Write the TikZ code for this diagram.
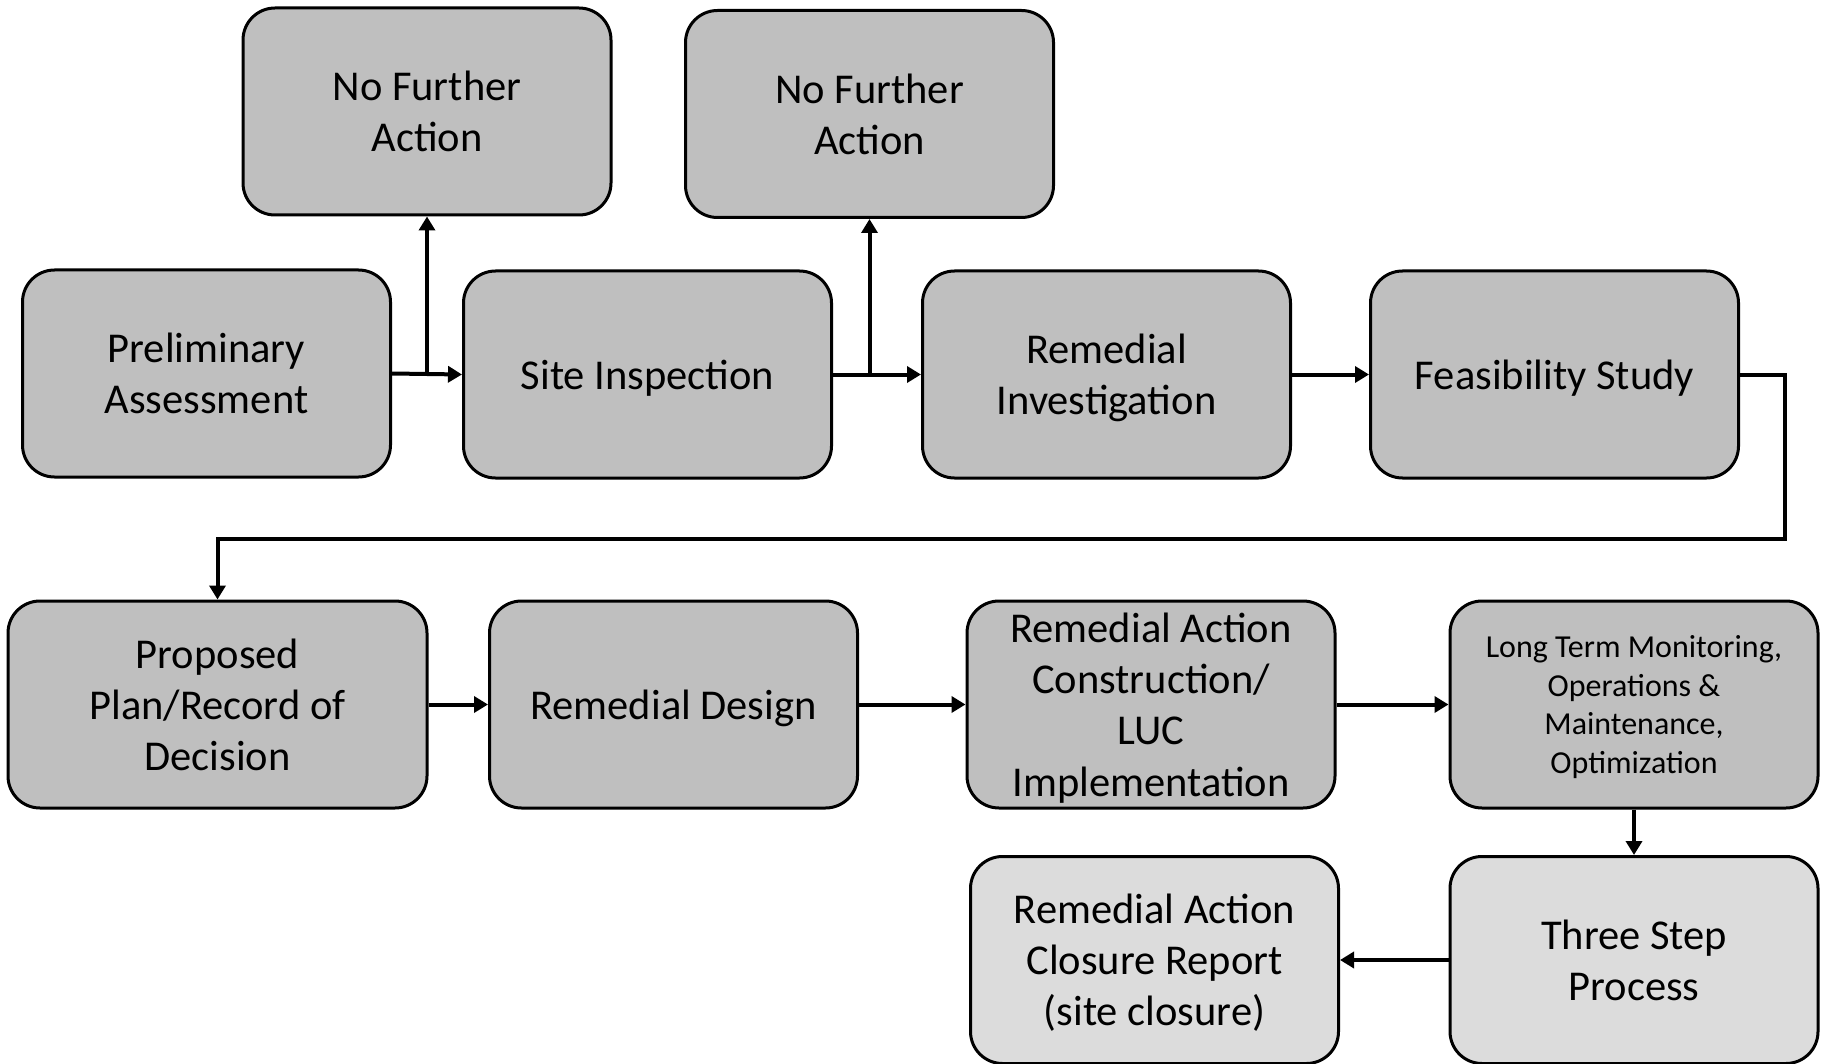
\documentclass[tikz,border=0pt]{standalone}
\usepackage{fontspec}
\setmainfont{Carlito}
\usetikzlibrary{arrows.meta}
\usetikzlibrary{calc}

\definecolor{stagegray}{HTML}{BFBFBF}
\definecolor{closegray}{HTML}{DCDCDC}

\begin{document}
\begin{tikzpicture}[x=0.5pt,y=-0.5pt,
    stage/.style={draw=black,line width=1.5pt,rounded corners=16pt,fill=stagegray,
      minimum width=184pt,minimum height=103.5pt,align=center,inner sep=2pt,
      text depth=0pt,font=\fontsize{21.25}{25.6}\selectfont},
    closing/.style={stage,fill=closegray},
    flow/.style={line width=2pt,-{Triangle[length=7pt,width=8pt]}}]
    \useasboundingbox (0,0) rectangle (1825,1064);
    % top row
    \node[stage] (NFA1) at (427,111.5) {No Further\\Action};
    \node[stage] (NFA2) at (869.5,114) {No Further\\Action};
    \node[stage] (PA) at (206.5,373.5) {Preliminary\\Assessment};
    \node[stage] (SI) at (647.5,374.5) {Site Inspection};
    \node[stage] (RI) at (1106.5,374.5) {Remedial\\Investigation};
    \node[stage] (FS) at (1554.5,374.5) {Feasibility Study};
    % middle row
    \node[stage,minimum width=209.5pt] (PP) at (217.5,704.5) {Proposed\\Plan/Record of\\Decision};
    \node[stage] (RD) at (673.5,704.5) {Remedial Design};
    \node[stage] (RA) at (1151,704.5) {Remedial Action\\Construction/\\LUC\\Implementation};
    \node[stage,font=\fontsize{16}{19.4}\selectfont] (LTM) at (1634,704.5) {Long Term Monitoring,\\Operations \&\\Maintenance,\\Optimization};
    % bottom row
    \node[closing] (RAC) at (1154.5,960) {Remedial Action\\Closure Report\\(site closure)};
    \node[closing] (TSP) at (1634,960) {Three Step\\Process};

    \coordinate (J1) at (NFA1.south |- PA.east);
    \coordinate (J2) at (NFA2.south |- SI.east);
    \coordinate (bend) at (1785,539);

    \draw[flow] (PA.east) -- (SI.west);
    \draw[flow] (J1) -- (NFA1.south);
    \draw[flow] (SI.east) -- (RI.west);
    \draw[flow] (J2) -- (NFA2.south);
    \draw[flow] (RI.east) -- (FS.west);
    \draw[flow] (FS.east) -| (bend) -| (PP.north);
    \draw[flow] (PP.east) -- (RD.west);
    \draw[flow] (RD.east) -- (RA.west);
    \draw[flow] (RA.east) -- (LTM.west);
    \draw[flow] (LTM.south) -- (TSP.north);
    \draw[flow] (TSP.west) -- (RAC.east);
  \end{tikzpicture}
\end{document}
